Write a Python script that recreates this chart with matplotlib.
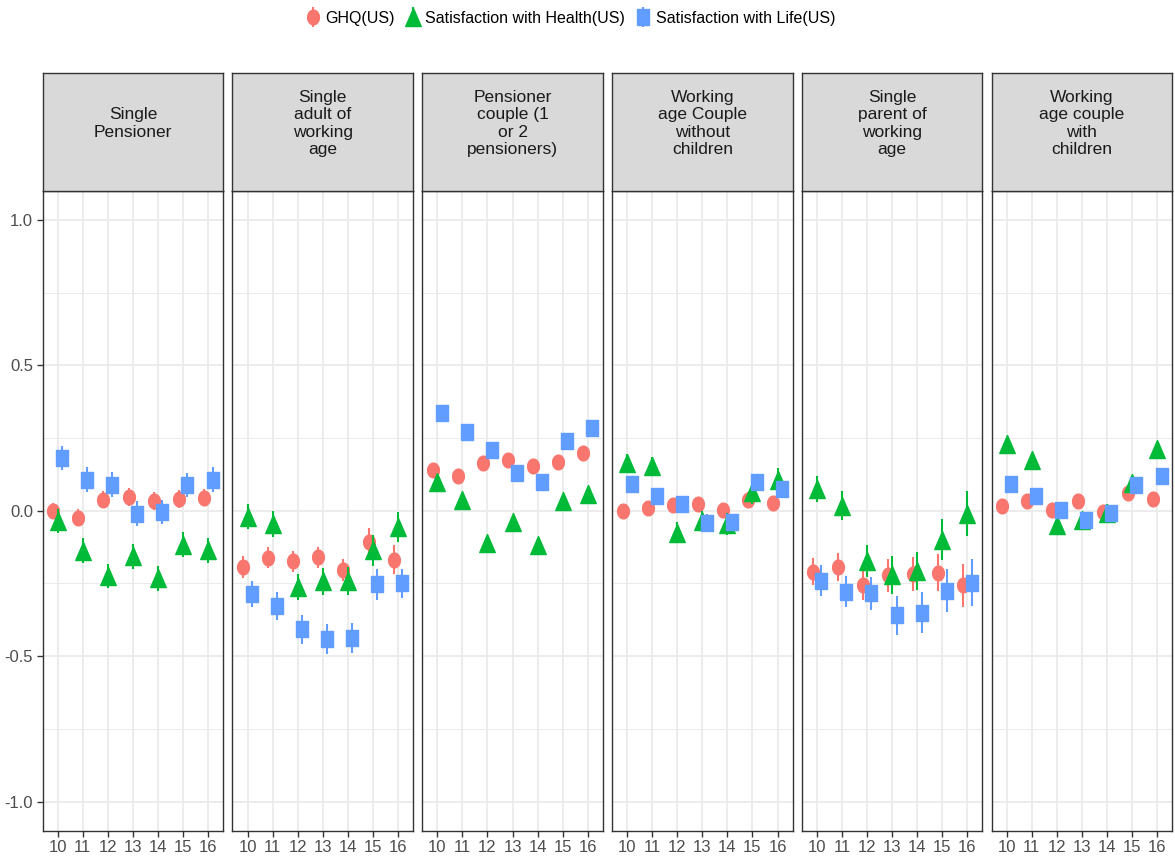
import numpy as np
import matplotlib
matplotlib.use("Agg")
import matplotlib.pyplot as plt
from matplotlib.lines import Line2D

plt.rcParams["font.family"] = ["Liberation Sans", "DejaVu Sans"]
plt.rcParams["axes.unicode_minus"] = False

years = [10, 11, 12, 13, 14, 15, 16]
panels = ["Single\nPensioner",
          "Single\nadult of\nworking\nage",
          "Pensioner\ncouple (1\nor 2\npensioners)",
          "Working\nage Couple\nwithout\nchildren",
          "Single\nparent of\nworking\nage",
          "Working\nage couple\nwith\nchildren"]
series_names = ["GHQ(US)", "Satisfaction with Health(US)", "Satisfaction with Life(US)"]

ghq = [[0.0, -0.024, 0.038, 0.047, 0.033, 0.04, 0.045],
       [-0.194, -0.162, -0.174, -0.16, -0.205, -0.108, -0.168],
       [0.141, 0.121, 0.164, 0.176, 0.155, 0.166, 0.198],
       [0.0, 0.008, 0.019, 0.022, 0.003, 0.038, 0.026],
       [-0.209, -0.194, -0.257, -0.222, -0.217, -0.213, -0.257],
       [0.016, 0.033, 0.003, 0.032, -0.005, 0.06, 0.039]]
health = [[-0.035, -0.137, -0.225, -0.157, -0.233, -0.117, -0.136],
          [-0.02, -0.047, -0.262, -0.243, -0.242, -0.136, -0.056],
          [0.097, 0.037, -0.11, -0.038, -0.117, 0.035, 0.057],
          [0.165, 0.153, -0.076, -0.036, -0.045, 0.064, 0.107],
          [0.076, 0.017, -0.174, -0.22, -0.207, -0.099, -0.01],
          [0.228, 0.174, -0.05, -0.032, -0.009, 0.094, 0.213]]
life = [[0.182, 0.107, 0.09, -0.01, -0.005, 0.089, 0.107],
        [-0.285, -0.328, -0.408, -0.441, -0.437, -0.253, -0.249],
        [0.335, 0.27, 0.207, 0.131, 0.1, 0.239, 0.286],
        [0.093, 0.049, 0.022, -0.041, -0.039, 0.098, 0.073],
        [-0.24, -0.278, -0.284, -0.36, -0.35, -0.275, -0.247],
        [0.091, 0.049, 0.003, -0.031, -0.007, 0.088, 0.118]]

ghq_err = [[0.028, 0.03, 0.03, 0.03, 0.03, 0.03, 0.03],
           [0.037, 0.036, 0.035, 0.036, 0.038, 0.047, 0.05],
           [0.018, 0.018, 0.018, 0.018, 0.018, 0.018, 0.018],
           [0.02, 0.02, 0.02, 0.02, 0.02, 0.025, 0.02],
           [0.046, 0.048, 0.05, 0.057, 0.058, 0.063, 0.075],
           [0.018, 0.018, 0.018, 0.018, 0.018, 0.018, 0.018]]
health_err = [[0.04, 0.043, 0.042, 0.043, 0.043, 0.043, 0.043],
              [0.042, 0.045, 0.046, 0.047, 0.048, 0.053, 0.052],
              [0.02, 0.02, 0.02, 0.02, 0.02, 0.02, 0.02],
              [0.03, 0.03, 0.036, 0.036, 0.038, 0.04, 0.04],
              [0.045, 0.05, 0.055, 0.065, 0.065, 0.07, 0.078],
              [0.02, 0.02, 0.022, 0.025, 0.033, 0.025, 0.022]]
life_err = [[0.042, 0.042, 0.042, 0.042, 0.042, 0.042, 0.042],
            [0.045, 0.048, 0.049, 0.053, 0.052, 0.054, 0.05],
            [0.02, 0.02, 0.02, 0.02, 0.02, 0.02, 0.02],
            [0.028, 0.028, 0.028, 0.028, 0.028, 0.028, 0.028],
            [0.053, 0.054, 0.056, 0.066, 0.07, 0.073, 0.08],
            [0.02, 0.02, 0.02, 0.02, 0.02, 0.02, 0.02]]

colors = ["#F8766D", "#00BA38", "#619CFF"]

# slightly narrow markers (the original looks squeezed horizontally)
t = np.linspace(0, 2 * np.pi, 40)
m_circle = list(zip(0.4 * np.cos(t), 0.5 * np.sin(t)))
m_tri = [(0, 0.5), (-0.43, -0.5), (0.43, -0.5), (0, 0.5)]
m_sq = [(-0.38, -0.5), (0.38, -0.5), (0.38, 0.5), (-0.38, 0.5), (-0.38, -0.5)]
markers = [m_circle, m_tri, m_sq]
msizes = [10.6, 13, 11.2]
offsets = [-0.175, 0, 0.175]

fig = plt.figure(figsize=(11.75, 8.64), dpi=100)

left0, pitch, width = 0.03634, 0.16153, 0.15362
bottom, height = 0.0385, 0.7408
strip_h = 0.1359
border = "#333333"

for p in range(6):
    l = left0 + p * pitch
    ax = fig.add_axes([l, bottom, width, height])
    ax.set_xlim(9.4, 16.6)
    ax.set_ylim(-1.1, 1.1)
    ax.set_xticks(years)
    ax.set_xticklabels([str(y) for y in years])
    ax.set_yticks([-1.0, -0.5, 0.0, 0.5, 1.0])
    ax.set_yticks([-0.75, -0.25, 0.25, 0.75], minor=True)
    if p == 0:
        ax.set_yticklabels(["-1.0", "-0.5", "0.0", "0.5", "1.0"])
    else:
        ax.tick_params(axis="y", which="both", left=False, labelleft=False)
    ax.tick_params(axis="both", which="major", length=4, width=1, color=border,
                   labelsize=12, labelcolor="#4D4D4D", pad=3)
    ax.tick_params(axis="both", which="minor", length=0)
    ax.grid(which="major", color="#EBEBEB", lw=1.3)
    ax.grid(which="minor", color="#EBEBEB", lw=0.7)
    ax.set_axisbelow(True)
    for s in ax.spines.values():
        s.set_color(border)
        s.set_linewidth(1.0)

    data = [ghq[p], health[p], life[p]]
    errs = [ghq_err[p], health_err[p], life_err[p]]
    for k in range(3):
        xs = np.array(years) + offsets[k]
        ax.errorbar(xs, data[k], yerr=errs[k], fmt="none", ecolor=colors[k],
                    elinewidth=1.5, capsize=0, zorder=3 + 2 * k)
        ax.plot(xs, data[k], ls="", marker=markers[k], ms=msizes[k],
                color=colors[k], mec=colors[k], zorder=4 + 2 * k)

    sax = fig.add_axes([l, bottom + height, width, strip_h])
    sax.set_facecolor("#D9D9D9")
    sax.set_xticks([])
    sax.set_yticks([])
    for s in sax.spines.values():
        s.set_color(border)
        s.set_linewidth(1.0)
    sax.text(0.5, 0.572, panels[p], ha="center", va="center", fontsize=12.5,
             color="#1A1A1A", linespacing=1.2, transform=sax.transAxes)

handles = []
for k in range(3):
    vline = Line2D([], [], ls="", marker="|", ms=15, mew=1.5, color=colors[k])
    pt = Line2D([], [], ls="", marker=markers[k], ms=msizes[k], color=colors[k])
    handles.append((vline, pt))
fig.legend(handles, series_names, loc="center", bbox_to_anchor=(0.485, 0.979),
           ncol=3, frameon=False, fontsize=11.5, handlelength=1.0,
           handletextpad=0.3, columnspacing=0.6)

fig.savefig("out.png", dpi=100)
